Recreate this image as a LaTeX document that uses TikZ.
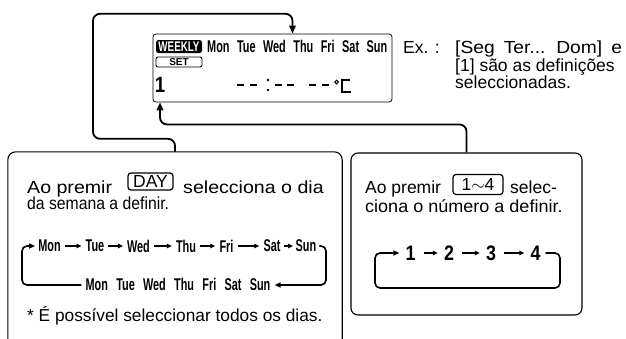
\documentclass[tikz,border=0pt]{standalone}
\usepackage{fontspec}
\setmainfont{Liberation Sans}
\newfontfamily\fsL[FakeStretch=1.12]{Liberation Sans}
\newfontfamily\fsLL[FakeStretch=0.9]{Liberation Sans}
\newfontfamily\fsR[FakeStretch=1.03]{Liberation Sans}
\newfontfamily\fsE[FakeStretch=1.1]{Liberation Sans}
\newfontfamily\cond[FakeStretch=0.64]{Liberation Sans Bold}
\newfontfamily\condw[FakeStretch=0.7]{Liberation Sans Bold}
\newfontfamily\condn[FakeStretch=0.85]{Liberation Sans Bold}
\usetikzlibrary{arrows.meta}
\begin{document}
\begin{tikzpicture}[x=1pt,y=-1pt,
  txt/.style={font=#1\fontsize{17.5}{20}\selectfont, inner sep=0pt, anchor=base west},
  txt/.default=\relax,
  cnd/.style={font=\cond\fontsize{17}{17}\selectfont, inner sep=1pt},
  num/.style={font=\condn\fontsize{21}{21}\selectfont, inner sep=1pt},
  btn/.style={draw, line width=1.2pt, rounded corners=3pt, inner sep=0pt, font=\fontsize{17.5}{20}\selectfont},
  conn/.style={line width=1.8pt, rounded corners=7pt, -{Triangle[length=8pt,width=6.5pt]}},
  cyc/.style={line width=1.6pt, rounded corners=5pt, -{Triangle[length=6pt,width=5pt]}},
  darr/.style={line width=1.2pt, -{Triangle[length=5pt,width=4.5pt]}, shorten <=3pt, shorten >=3pt},
  frame/.style={line width=1.1pt, rounded corners=8pt}]
\useasboundingbox (0,0) rectangle (626,338);

% LCD panel
\node[draw, line width=0.8pt, rounded corners=3pt, minimum width=239pt, minimum height=68pt, inner sep=0pt] (lcd) at (272.5,68) {};
\node[fill=black, rounded corners=2.5pt, minimum width=46pt, minimum height=13pt, inner sep=0pt, text=white, font=\condw\fontsize{14}{14}\selectfont] (weekly) at (179,46.5) {WEEKLY};
\node[anchor=west, inner sep=0pt, font=\cond\fontsize{17}{17}\selectfont] (lcddays) at (207,46.5) {\spaceskip=7.5pt\relax Mon Tue Wed Thu Fri Sat Sun};
\node[draw, line width=0.9pt, rounded corners=2pt, minimum width=46pt, minimum height=10pt, inner sep=0pt, font=\bfseries\fontsize{10}{10}\selectfont] (setbtn) at (179,62) {SET};
\node[inner sep=0pt, font=\condn\fontsize{22}{22}\selectfont] (lone) at (160,84.5) {1};
\foreach \a in {237,250,275,287,309,322} \draw[line width=2.2pt] (\a,85) -- ++(7,0);
\fill (268,80) circle (1.3pt) (268,90) circle (1.3pt);
\draw[line width=1pt] (336.5,82) circle (1.8pt);
\draw[line width=1.8pt] (350,80) -- (342,80) -- (342,92) -- (351,92);

% example text
\node[txt] (ex) at (403,53) {Ex. :};
\node[txt=\fsE] (ex1) at (455,53) {\spaceskip=9pt\relax [Seg Ter... Dom] e};
\node[txt] (ex2) at (455,71) {[1] são as definições};
\node[txt] (ex3) at (455,88) {seleccionadas.};

% left box
\node[minimum width=334pt, minimum height=193pt, inner sep=0pt] (leftbox) at (175,248.5) {};
\draw[frame] (leftbox.south west) -- (leftbox.north west) -- (leftbox.north east) -- (leftbox.south east);
\node[txt=\fsL] (l1a) at (27,193) {Ao premir};
\node[btn, minimum width=45pt, minimum height=17pt] (daybtn) at (150.5,181.5) {DAY};
\node[txt=\fsL] (l1b) at (183,193) {selecciona o dia};
\node[txt=\fsLL] (l2) at (27,209) {da semana a definir.};
\foreach \n/\x/\t in {d1/49.5/Mon, d2/95/Tue, d3/138.5/Wed, d4/186/Thu, d5/226.5/Fri, d6/272/Sat, d7/306/Sun}
  \node[cnd] (\n) at (\x,246) {\t};
\foreach \a/\b in {d1/d2, d2/d3, d3/d4, d4/d5, d5/d6}
  \draw[darr] (\a.east) -- (\b.west);
\draw[darr, shorten <=2pt, shorten >=1.5pt] (d6.east) -- (d7.west);
\node[cnd] (alld) at (178,284) {\spaceskip=8.3pt\relax Mon Tue Wed Thu Fri Sat Sun};
\coordinate (dbr) at (326,285);
\coordinate (dbl) at (22,285);
\draw[cyc, shorten >=3pt] ([xshift=2pt]d7.east) -| (dbr) -- (alld.east |- dbr);
\draw[cyc, shorten >=2pt] ([xshift=-3pt]alld.west |- dbl) -- (dbl) |- (d1.west);
\node[txt, font=\fontsize{17.3}{20}\selectfont] (foot) at (27,321) {* É possível seleccionar todos os dias.};

% right box
\node[draw, line width=1.1pt, rounded corners=7pt, minimum width=231pt, minimum height=162pt, inner sep=0pt] (rightbox) at (466.5,234) {};
\node[txt] (r1a) at (365,193) {Ao premir};
\node[btn, minimum width=50pt, minimum height=20pt] (numbtn) at (478,184.5) {1$\sim$4};
\node[txt] (r1b) at (510,193) {selec-};
\node[txt=\fsR] (r2) at (365,212) {ciona o número a definir.};
\foreach \n/\x/\t in {n1/410.5/1, n2/449/2, n3/491/3, n4/535.5/4}
  \node[num] (\n) at (\x,253) {\t};
\foreach \a/\b in {n1/n2, n2/n3, n3/n4}
  \draw[darr, shorten <=7pt, shorten >=5pt] (\a.east) -- (\b.west);
\coordinate (nbr) at (560,288);
\coordinate (nbl) at (375,288);
\draw[cyc, shorten >=5pt] ([xshift=4pt]n4.east) -| (nbr) -- (nbl) |- (n1.west);

% connectors to the LCD
\draw[conn] (leftbox.north) -- ++(0,-13) -| ++(-82,-125) -| ([xshift=20pt]lcd.north);
\draw[conn] (rightbox.north) -- ++(0,-28) -| (lone |- lcd.south);
\end{tikzpicture}
\end{document}
